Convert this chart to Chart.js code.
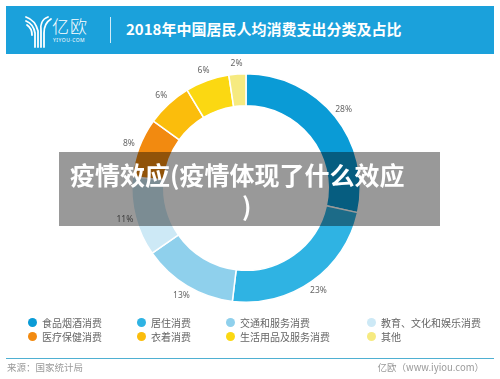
<!DOCTYPE html>
<html>
<head>
<meta charset="utf-8">
<script src="https://cdn.jsdelivr.net/npm/chart.js@4/dist/chart.umd.min.js"></script>
<style>
  body { margin: 0; background: #fff; font-family: "Noto Sans CJK SC", "Noto Sans", sans-serif; }
  #page { position: relative; width: 500px; height: 379px; overflow: hidden; }
  #header { position: absolute; left: 6px; top: 6px; width: 488px; height: 48px; background: #1ba1db; }
  #brand { position: absolute; left: 46px; top: 10px; color: #fff; font-size: 17px; font-weight: 300; line-height: 20px; letter-spacing: 1px; }
  #brandSub { position: absolute; left: 47px; top: 31px; color: #fff; font-size: 5px; line-height: 6px; letter-spacing: 0.5px; font-family: "Noto Sans", sans-serif; }
  #divider { position: absolute; left: 104px; top: 11px; width: 1px; height: 26px; background: rgba(255,255,255,0.8); }
  #title { position: absolute; left: 120px; top: 12px; color: #fff; font-size: 15px; font-weight: 700; line-height: 22px; }
  #chartBox { position: absolute; left: 0; top: 0; width: 500px; height: 379px; }
  #legend { position: absolute; left: 0; top: 314px; width: 500px; height: 30px; }
  .item { position: absolute; font-size: 10px; color: #666; line-height: 13px; white-space: nowrap; }
  .dot { position: absolute; width: 9px; height: 9px; border-radius: 50%; left: -14px; top: 2px; }
  #rule { position: absolute; left: 6px; top: 358px; width: 488px; height: 1px; background: #4fb0d2; }
  #source { position: absolute; left: 7px; top: 361px; font-size: 9.5px; color: #999; line-height: 13px; }
  #site { position: absolute; right: 16px; top: 361px; font-size: 9.5px; color: #999; line-height: 13px; }
  #overlay { position: absolute; left: 59px; top: 152px; width: 381px; height: 74px; background: rgba(0,0,0,0.4); }
  .ov { position: absolute; color: #fff; font-size: 25px; font-weight: 700; line-height: 30px; white-space: nowrap; }
</style>
</head>
<body>
<div id="page">
  <div id="header">
    <svg width="40" height="40" style="position:absolute;left:16px;top:5px" viewBox="0 0 40 40">
      <g fill="none" stroke="#fff" stroke-width="1.8" stroke-linecap="round">
        <path d="M4 6 C10 8 14 12 16 20 L16 36"/>
        <path d="M4 10 C9 12 12 16 13 22 L13 36"/>
        <path d="M5 14 C8 16 10 19 10 24"/>
        <path d="M26 6 C20 8 18 14 19 20 L19 36"/>
        <path d="M29 8 C24 11 22 16 22 22 L22 36"/>
      </g>
    </svg>
    <div id="brand">亿欧</div>
    <div id="brandSub">YIYOU·COM</div>
    <div id="divider"></div>
    <div id="title">2018年中国居民人均消费支出分类及占比</div>
  </div>
  <div id="chartBox"><canvas id="myChart" width="500" height="379"></canvas></div>
  <div id="legend"></div>
  <div id="rule"></div>
  <div id="source">来源：国家统计局</div>
  <div id="site">亿欧（www.iyiou.com）</div>
  <div id="overlay"></div>
  <div class="ov" style="left:70px;top:159px">疫情效应(疫情体现了什么效应</div>
  <div class="ov" style="left:242px;top:190px">)</div>
</div>
<script>
const categories = [
  "食品烟酒消费",
  "居住消费",
  "交通和服务消费",
  "教育、文化和娱乐消费",
  "医疗保健消费",
  "衣着消费",
  "生活用品及服务消费",
  "其他",
];
const shares = [28.4, 23.4, 13.4, 11.2, 8.4, 6.4, 6.2, 2.4];
const colors = [
  "#0a9bd6",
  "#2fb3e3",
  "#8fd0ec",
  "#cde9f6",
  "#f28a10",
  "#fbbd0c",
  "#fbd812",
  "#f6ea80",
];

// legend grid: 4 columns, 2 rows
const legendX = [42, 151, 240, 381];
const legendY = [2, 16];
const legendBox = document.getElementById("legend");
categories.forEach(function (name, i) {
  const item = document.createElement("div");
  item.className = "item";
  item.style.left = legendX[i % 4] + "px";
  item.style.top = legendY[Math.floor(i / 4)] + "px";
  const dot = document.createElement("span");
  dot.className = "dot";
  dot.style.background = colors[i];
  item.appendChild(dot);
  item.appendChild(document.createTextNode(name));
  legendBox.appendChild(item);
});

const outsideLabels = {
  id: "outsideLabels",
  afterDatasetsDraw(chart) {
    const c = chart.ctx;
    const meta = chart.getDatasetMeta(0);
    c.save();
    c.font = '8.5px "Noto Sans", sans-serif';
    c.fillStyle = "#666";
    c.textAlign = "center";
    c.textBaseline = "middle";
    meta.data.forEach(function (arc, i) {
      const p = arc.getProps(["x", "y", "startAngle", "endAngle", "outerRadius"], true);
      const mid = (p.startAngle + p.endAngle) / 2;
      const r = p.outerRadius + 11;
      c.fillText(Math.round(shares[i]) + "%", p.x + Math.cos(mid) * r, p.y + Math.sin(mid) * r);
    });
    c.restore();
  },
};

const ctx = document.getElementById("myChart");
const myChart = new Chart(ctx, {
  type: "doughnut",
  data: {
    labels: categories,
    datasets: [
      {
        data: shares,
        backgroundColor: colors,
        borderColor: "#ffffff",
        borderWidth: 1.5,
      },
    ],
  },
  options: {
    responsive: false,
    animation: false,
    cutout: "72%",
    layout: { padding: { left: 131, right: 139, top: 73, bottom: 76 } },
    plugins: {
      legend: { display: false },
      tooltip: { enabled: false },
    },
  },
  plugins: [outsideLabels],
});
</script>
</body>
</html>
